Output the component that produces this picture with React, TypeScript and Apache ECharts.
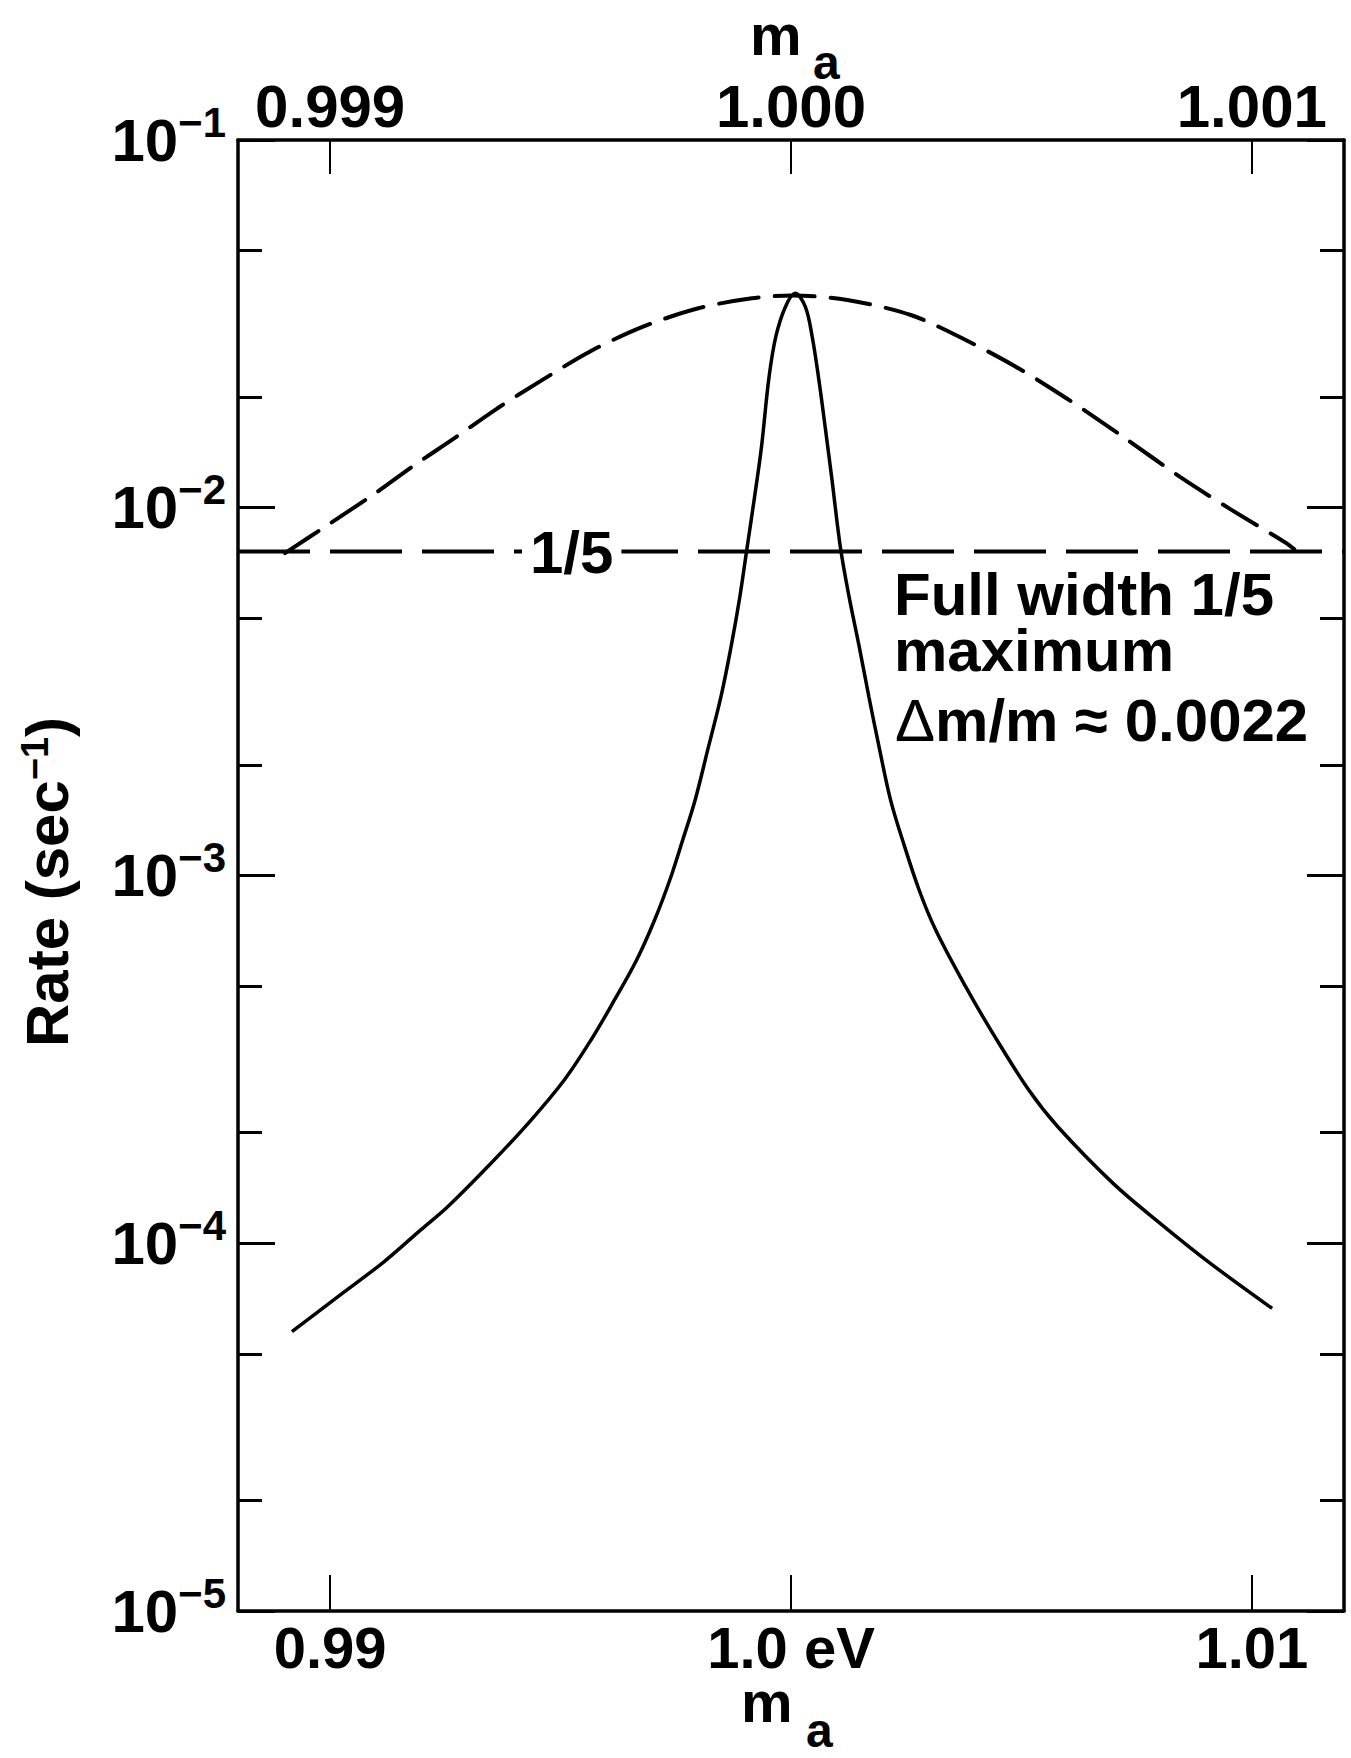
import React, { useEffect, useRef } from "react";
import * as echarts from "echarts";

// ---- Data ----
// Solid curve: plotted against the bottom m_a axis (eV)
const SOLID_MASS = [
  0.98917, 0.99017, 0.99116, 0.99196, 0.99255, 0.99349, 0.99436, 0.99508, 0.99566, 0.99617,
  0.99665, 0.99704, 0.99737, 0.99765, 0.99792, 0.99821, 0.99848, 0.9987, 0.99889, 0.99905,
  0.99921, 0.99936, 0.99952, 0.99967, 0.99988, 1.00009, 1.00031, 1.00046, 1.0006, 1.00075,
  1.00089, 1.00107, 1.00126, 1.00148, 1.00169, 1.00191, 1.00216, 1.00242, 1.00278, 1.00314,
  1.00379, 1.00438, 1.00516, 1.00579, 1.00699, 1.00801, 1.0091, 1.01044,
];
const SOLID_RATE = [
  5.75e-5, 7.16e-5, 8.89e-5, 1.086e-4, 1.257e-4, 1.65e-4, 2.163e-4, 2.779e-4, 3.57e-4, 4.587e-4,
  5.891e-4, 7.568e-4, 9.723e-4, 1.249e-3, 1.605e-3, 2.24e-3, 3.063e-3, 4.192e-3, 5.731e-3, 7.836e-3,
  0.010715, 0.014655, 0.02249, 0.02918, 0.03522, 0.0383, 0.03522, 0.02918, 0.02249, 0.016272,
  0.011899, 7.836e-3, 5.731e-3, 4.192e-3, 3.063e-3, 2.24e-3, 1.605e-3, 1.249e-3, 9.133e-4, 7.107e-4,
  4.984e-4, 3.723e-4, 2.61e-4, 2.074e-4, 1.455e-4, 1.133e-4, 8.818e-5, 6.651e-5,
];
// Dashed curve: plotted against the top m_a axis
const DASHED_MASS = [
  0.998902, 0.999, 0.999098, 0.999181, 0.999269, 0.999363, 0.999458, 0.999563, 0.999679, 0.999799,
  0.999915, 1.000002, 1.000122, 1.00026, 1.000376, 1.000485, 1.000601, 1.000728, 1.000845, 1.000954,
  1.001073, 1.001092,
];
const DASHED_RATE = [
  0.00753, 0.00907, 0.01095, 0.01301, 0.01544, 0.01864, 0.02216, 0.02657, 0.03107, 0.03487,
  0.03712, 0.03777, 0.03673, 0.03343, 0.02871, 0.02429, 0.01972, 0.01536, 0.01211, 0.0099,
  0.00804, 0.00772,
];
// One-fifth-of-maximum level (horizontal dashed line), drawn across the bottom axis range
const FIFTH_MAX_RATE = 0.0076;

const X_MIN = 0.988;
const X_MAX = 1.012;
const X_TOP_MIN = 0.9988;
const X_TOP_MAX = 1.0012;
const BOTTOM_TICKS = [0.99, 1.0, 1.01];
const BOTTOM_TICK_LABELS = ["0.99", "1.0 eV", "1.01"];
const TOP_TICKS = [0.999, 1.0, 1.001];
const TOP_TICK_LABELS = ["0.999", "1.000", "1.001"];
const Y_MINOR_TICKS = [2e-5, 5e-5, 2e-4, 5e-4, 2e-3, 5e-3, 2e-2, 5e-2];
const ANNOTATION_LINES = ["Full width 1/5", "maximum", "Δm/m ≈ 0.0022"];
const FIFTH_LABEL = "1/5";
const Y_NAME = ["Rate (sec", "−1", ")"];
const X_NAME = ["m", "a"];

const FONT = "'Liberation Sans', Arial, Helvetica, sans-serif";
const BLACK = "#000";

function labelFor(ticks: number[], labels: string[]) {
  return (v: number) => {
    const i = ticks.findIndex((t) => Math.abs(t - v) < 1e-9);
    return i >= 0 ? labels[i] : "";
  };
}

function plainText(x: number, y: number, text: string, fontSize: number, lineHeight: number) {
  return {
    type: "text",
    x,
    y,
    z: 100,
    style: {
      text,
      fontFamily: FONT,
      fontWeight: "bold",
      fontSize,
      lineHeight,
      fill: BLACK,
      align: "left",
      verticalAlign: "middle",
    },
  };
}

function buildOption(): any {
  const solid = SOLID_MASS.map((m, i) => [m, SOLID_RATE[i]]);
  const dashed = DASHED_MASS.map((m, i) => [m, DASHED_RATE[i]]);
  const fifth = [
    [X_MIN, FIFTH_MAX_RATE],
    [X_MAX, FIFTH_MAX_RATE],
  ];
  const minorLog = Y_MINOR_TICKS.map((v) => Math.log10(v));

  const tickLabelStyle = {
    fontFamily: FONT,
    fontWeight: "bold",
    fontSize: 58,
    color: BLACK,
  };

  const yLabelRich = {
    b: { fontFamily: FONT, fontWeight: "bold", fontSize: 60, lineHeight: 78, color: BLACK },
    s: { fontFamily: FONT, fontWeight: "bold", fontSize: 42, lineHeight: 42, verticalAlign: "top", color: BLACK },
  };

  const frameLine = { show: true, onZero: false, lineStyle: { color: BLACK, width: 3.5 } };

  return {
    animation: false,
    backgroundColor: "#fff",
    textStyle: { fontFamily: FONT },
    grid: {
      left: 238,
      right: 7,
      top: 140,
      bottom: 147,
      containLabel: false,
      outerBoundsMode: "none",
    },
    xAxis: [
      {
        type: "value",
        position: "bottom",
        min: X_MIN,
        max: X_MAX,
        axisLine: frameLine,
        splitLine: { show: false },
        axisTick: {
          show: true,
          inside: true,
          length: 36,
          customValues: BOTTOM_TICKS,
          lineStyle: { color: BLACK, width: 2 },
        },
        axisLabel: {
          ...tickLabelStyle,
          lineHeight: 50,
          margin: 11,
          customValues: BOTTOM_TICKS,
          formatter: labelFor(BOTTOM_TICKS, BOTTOM_TICK_LABELS),
        },
      },
      {
        type: "value",
        position: "top",
        min: X_TOP_MIN,
        max: X_TOP_MAX,
        axisLine: frameLine,
        splitLine: { show: false },
        axisTick: {
          show: true,
          inside: true,
          length: 34,
          customValues: TOP_TICKS,
          lineStyle: { color: BLACK, width: 2 },
        },
        axisLabel: {
          ...tickLabelStyle,
          fontSize: 60,
          lineHeight: 50,
          margin: 9,
          customValues: TOP_TICKS,
          formatter: labelFor(TOP_TICKS, TOP_TICK_LABELS),
        },
      },
    ],
    yAxis: [
      {
        type: "log",
        logBase: 10,
        position: "left",
        min: 1e-5,
        max: 1e-1,
        axisLine: frameLine,
        splitLine: { show: false },
        minorTick: { show: false },
        axisTick: { show: true, inside: true, length: 37, lineStyle: { color: BLACK, width: 3 } },
        axisLabel: {
          margin: 12,
          showMinLabel: true,
          showMaxLabel: true,
          formatter: (v: number) => `{b|10}{s|−${-Math.round(Math.log10(v))}}`,
          rich: yLabelRich,
        },
      },
      {
        type: "log",
        logBase: 10,
        position: "right",
        min: 1e-5,
        max: 1e-1,
        axisLine: frameLine,
        splitLine: { show: false },
        minorTick: { show: false },
        axisTick: { show: true, inside: true, length: 37, lineStyle: { color: BLACK, width: 3 } },
        axisLabel: { show: false },
      },
      {
        type: "value",
        position: "left",
        min: -5,
        max: -1,
        axisLine: { show: false, onZero: false },
        splitLine: { show: false },
        axisTick: {
          show: true,
          inside: true,
          length: 24,
          customValues: minorLog,
          lineStyle: { color: BLACK, width: 3 },
        },
        axisLabel: { show: false },
      },
      {
        type: "value",
        position: "right",
        min: -5,
        max: -1,
        axisLine: { show: false, onZero: false },
        splitLine: { show: false },
        axisTick: {
          show: true,
          inside: true,
          length: 24,
          customValues: minorLog,
          lineStyle: { color: BLACK, width: 3 },
        },
        axisLabel: { show: false },
      },
    ],
    series: [
      {
        name: "1/5 maximum",
        type: "line",
        xAxisIndex: 0,
        yAxisIndex: 0,
        data: fifth,
        symbol: "none",
        silent: true,
        z: 3,
        lineStyle: { color: BLACK, width: 4, type: [72, 20] },
      },
      {
        name: "rate",
        type: "line",
        xAxisIndex: 0,
        yAxisIndex: 0,
        data: solid,
        symbol: "none",
        smooth: 0.35,
        silent: true,
        z: 4,
        lineStyle: { color: BLACK, width: 3.5 },
      },
      {
        name: "rate (expanded scale)",
        type: "line",
        xAxisIndex: 1,
        yAxisIndex: 0,
        data: dashed,
        symbol: "none",
        smooth: 0.3,
        silent: true,
        z: 4,
        lineStyle: { color: BLACK, width: 4, type: [40, 16], cap: "round" },
      },
    ],
    graphic: {
      elements: [
        {
          type: "text",
          x: 522,
          y: 552,
          z: 100,
          style: {
            text: FIFTH_LABEL,
            fontFamily: FONT,
            fontWeight: "bold",
            fontSize: 60,
            lineHeight: 50,
            fill: BLACK,
            backgroundColor: "#fff",
            padding: [0, 8],
            align: "left",
            verticalAlign: "middle",
          },
        },
        plainText(894, 594, ANNOTATION_LINES[0], 60, 50),
        plainText(894, 650, ANNOTATION_LINES[1], 60, 50),
        {
          type: "text",
          x: 895,
          y: 720,
          z: 100,
          style: {
            text: `{d|${ANNOTATION_LINES[2].slice(0, 1)}}{b|${ANNOTATION_LINES[2].slice(1)}}`,
            align: "left",
            verticalAlign: "middle",
            rich: {
              d: { fontFamily: FONT, fontWeight: "normal", fontSize: 60, lineHeight: 50, fill: BLACK },
              b: { fontFamily: FONT, fontWeight: "bold", fontSize: 60, lineHeight: 50, fill: BLACK },
            },
          },
        },
        // y axis name
        {
          type: "text",
          x: 47,
          y: 882,
          rotation: Math.PI / 2,
          z: 100,
          style: {
            text: `{t|${Y_NAME[0]}}{s|${Y_NAME[1]}}{t|${Y_NAME[2]}}`,
            align: "center",
            verticalAlign: "middle",
            rich: {
              t: { fontFamily: FONT, fontWeight: "bold", fontSize: 60, lineHeight: 62, fill: BLACK },
              s: { fontFamily: FONT, fontWeight: "bold", fontSize: 38, lineHeight: 38, verticalAlign: "top", fill: BLACK },
            },
          },
        },
        // top axis name m_a
        plainText(750, 34, X_NAME[0], 58, 40),
        plainText(813, 62, X_NAME[1], 48, 26),
        // bottom axis name m_a
        plainText(741, 1701, X_NAME[0], 58, 40),
        plainText(806, 1730, X_NAME[1], 48, 26),
      ],
    },
  };
}

export default function App() {
  const ref = useRef<HTMLDivElement>(null);
  useEffect(() => {
    if (!ref.current) return;
    const chart = echarts.init(ref.current, null, { renderer: "svg" });
    chart.setOption(buildOption());
    return () => chart.dispose();
  }, []);
  return (
    <div
      ref={ref}
      style={{ position: "absolute", left: 0, top: 0, width: 1351, height: 1758, background: "#fff" }}
    />
  );
}
